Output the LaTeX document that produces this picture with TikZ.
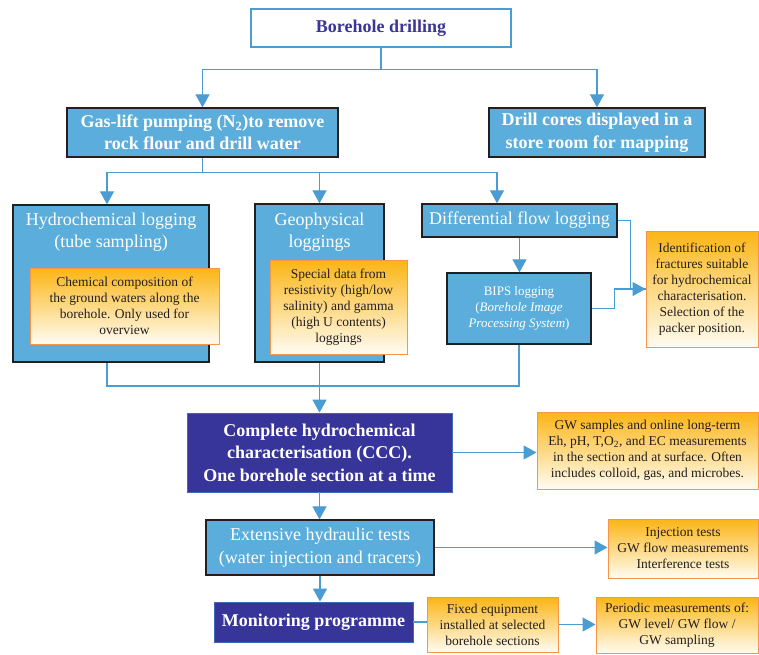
\documentclass[tikz,border=0pt]{standalone}
\usepackage{fontspec}
\setmainfont{Liberation Serif}
\usetikzlibrary{arrows.meta}
\definecolor{lblue}{HTML}{5BAEDB}
\definecolor{cblue}{HTML}{4A9CD3}
\definecolor{dblue}{HTML}{37349A}
\definecolor{tblue}{HTML}{3A3596}
\definecolor{oborder}{HTML}{F7964A}
\definecolor{otop}{HTML}{FBB515}
\definecolor{obot}{HTML}{FFFCF2}
\definecolor{edgec}{HTML}{231F20}
\begin{document}
\begin{tikzpicture}[x=1pt,y=-1pt,
  big/.style={font=\fontsize{18}{22.5}\selectfont},
  bigb/.style={font=\fontsize{18}{22.5}\selectfont\bfseries},
  lbox/.style={draw=edgec, line width=1.3pt, fill=lblue, text=white, inner sep=0pt, align=center},
  dbox/.style={draw=cblue!50!dblue, line width=0.8pt, fill=dblue, text=white, inner sep=0pt, align=center, bigb},
  wbox/.style={draw=cblue, line width=1.2pt, fill=white, text=tblue, inner sep=0pt, align=center, bigb},
  onote/.style={draw=oborder, line width=1pt, top color=otop, bottom color=obot, text=edgec, inner sep=0pt, align=center, font=\fontsize{13.5}{16}\selectfont},
  ttext/.style={text=white, inner sep=0pt, align=center, big},
  line/.style={draw=cblue, line width=1.2pt},
  conn/.style={line, -{Triangle[width=14pt,length=13pt]}}
]
\useasboundingbox (0,0) rectangle (759,654);

% boxes
\node[wbox, minimum width=260, minimum height=38] (bd) at (381,28) {Borehole drilling};
\node[lbox, bigb, minimum width=271, minimum height=49] (gas) at (202.5,132.5) {Gas-lift pumping (N\textsubscript{2})to remove\\rock flour and drill water};
\node[lbox, bigb, minimum width=216, minimum height=49] (cores) at (597,132.5) {Drill cores displayed in a\\store room for mapping};

\node[lbox, minimum width=196, minimum height=157] (hydro) at (111,283.5) {};
\node[ttext] (hydroT) at (111,232) {Hydrochemical logging\\(tube sampling)};
\node[onote, minimum width=189, minimum height=76] (hydroN) at (124.5,306) {Chemical composition of\\the ground waters along the\\borehole. Only used for\\overview};

\node[lbox, minimum width=129, minimum height=158] (geo) at (319.5,283) {};
\node[ttext] (geoT) at (319.5,232) {Geophysical\\loggings};
\node[onote, minimum width=137, minimum height=94] (geoN) at (338.5,307) {Special data from\\resistivity (high/low\\salinity) and gamma\\(high U contents)\\loggings};

\node[lbox, big, minimum width=195, minimum height=33] (diff) at (519.5,220.5) {Differential flow logging};
\node[lbox, minimum width=144, minimum height=71, font=\fontsize{13}{16}\selectfont] (bips) at (519,308.5) {BIPS logging\\(\textit{Borehole Image}\\\textit{Processing System})};
\node[onote, minimum width=112, minimum height=116] (idN) at (702,289) {Identification of\\fractures suitable\\for hydrochemical\\characterisation.\\Selection of the\\packer position.};

\node[dbox, minimum width=265, minimum height=79] (ccc) at (319.5,452.5) {Complete hydrochemical\\characterisation (CCC).\\One borehole section at a time};
\node[onote, minimum width=221, minimum height=77] (gwN) at (647.5,450.5) {GW samples and online long-term\\Eh, pH, T,O\textsubscript{2}, and EC measurements\\in the section and at surface. Often\\includes colloid, gas, and microbes.};

\node[lbox, big, minimum width=228, minimum height=55] (ext) at (320,547.5) {Extensive hydraulic tests\\(water injection and tracers)};
\node[onote, minimum width=150, minimum height=59] (injN) at (683,548.5) {Injection tests\\GW flow measurements\\Interference tests};

\node[dbox, minimum width=199, minimum height=40] (mon) at (313.5,622) {Monitoring programme};
\node[onote, minimum width=131, minimum height=55] (fixN) at (492.5,624.5) {Fixed equipment\\installed at selected\\borehole sections};
\node[onote, minimum width=162, minimum height=56] (perN) at (677,625) {Periodic measurements of:\\GW level/ GW flow /\\GW sampling};

% connectors
\draw[conn] (bd.south) -- ++(0,22) coordinate (j1) -| (gas.north);
\draw[conn] (j1) -| (cores.north);

\coordinate (c1) at (107,0);
\coordinate (c3) at (497,0);
\draw[conn] (gas.south) -- ++(0,15) coordinate (j2) -| (c1 |- hydro.north);
\draw[conn] (j2) -| (geo.north);
\draw[conn] (j2) -| (c3 |- diff.north);

\draw[conn] (diff.south) -- (diff.south |- bips.north);
\draw[line] (diff.east) -- ++(13,0) |- (idN.west);
\draw[conn] (bips.east) -- ++(23,0) |- (idN.west);

\coordinate (m) at (320,386);
\draw[line] (c1 |- hydro.south) |- (m) -| (bips.south);
\draw[conn] (geo.south) -- (ccc.north);

\draw[conn] (ccc.east) -- (ccc.east -| gwN.west);
\draw[conn] (ccc.south) -- (ccc.south |- ext.north);
\draw[conn] (ext.east) -- (ext.east -| injN.west);
\draw[conn] (ext.south) -- (ext.south |- mon.north);
\draw[line] (mon.east) -- (mon.east -| fixN.west);
\draw[conn] (fixN.east) -- (fixN.east -| perN.west);
\end{tikzpicture}
\end{document}
